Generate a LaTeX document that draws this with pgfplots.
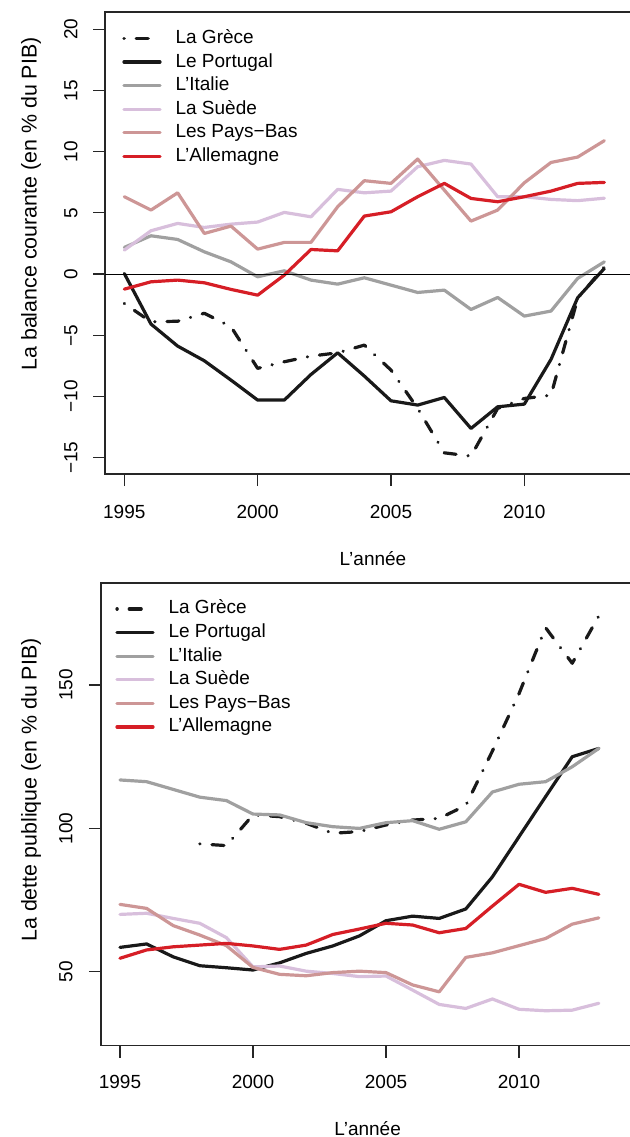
\documentclass[border=0pt]{standalone}
\usepackage{fontspec}
\setmainfont{Liberation Sans}
\usepackage{pgfplots}
\usepackage{pgfplotstable}
\pgfplotsset{compat=1.18}

\definecolor{grcol}{RGB}{25,25,25}
\definecolor{ptcol}{RGB}{25,25,25}
\definecolor{itcol}{RGB}{160,160,160}
\definecolor{secol}{RGB}{216,191,220}
\definecolor{nlcol}{RGB}{205,150,150}
\definecolor{decol}{RGB}{214,30,38}

% balance courante, % du PIB
\pgfplotstableread{
year gr pt it se nl de
1995 -2.4 0.05 2.18 1.96 6.32 -1.23
1996 -3.9 -4.08 3.13 3.54 5.23 -0.63
1997 -3.85 -5.88 2.83 4.14 6.64 -0.49
1998 -3.2 -7.08 1.82 3.81 3.32 -0.71
1999 -4.3 -8.66 1.0 4.08 3.92 -1.25
2000 -7.7 -10.29 -0.22 4.25 2.04 -1.72
2001 -7.16 -10.29 0.27 5.04 2.59 -0.08
2002 -6.7 -8.2 -0.49 4.68 2.59 2.01
2003 -6.43 -6.43 -0.82 6.92 5.5 1.9
2004 -5.8 -8.33 -0.3 6.64 7.63 4.74
2005 -7.84 -10.35 -0.9 6.78 7.41 5.09
2006 -10.97 -10.7 -1.5 8.77 9.4 6.32
2007 -14.6 -10.08 -1.31 9.29 6.86 7.41
2008 -14.87 -12.61 -2.89 8.99 4.33 6.18
2009 -10.97 -10.84 -1.91 6.32 5.23 5.91
2010 -10.16 -10.62 -3.43 6.32 7.46 6.32
2011 -9.89 -6.97 -3.02 6.1 9.12 6.78
2012 -1.99 -1.93 -0.35 6.0 9.56 7.41
2013 0.6 0.46 1.0 6.2 10.9 7.49
}\balance

% dette publique, % du PIB
\pgfplotstableread{
year gr pt it se nl de
1995 nan 58.5 116.9 70.0 73.5 54.7
1996 nan 59.7 116.3 70.4 72.1 57.6
1997 nan 55.2 113.6 68.6 66.1 58.7
1998 94.6 52.1 110.9 66.9 62.8 59.3
1999 94.0 51.4 109.7 61.9 59.1 59.9
2000 104.7 50.6 105.0 51.7 51.5 59.0
2001 104.1 53.1 104.7 52.0 49.1 57.8
2002 101.8 56.4 102.0 50.2 48.6 59.3
2003 98.3 59.0 100.6 49.4 49.7 63.0
2004 98.9 62.5 100.0 48.3 50.2 64.9
2005 101.2 67.8 102.0 48.5 49.7 66.9
2006 102.9 69.4 102.7 43.6 45.4 66.3
2007 103.5 68.6 99.7 38.6 43.0 63.6
2008 108.0 71.9 102.3 37.2 55.0 65.1
2009 127.0 83.1 112.7 40.5 56.6 72.9
2010 147.0 97.1 115.4 36.9 59.1 80.5
2011 170.0 111.1 116.3 36.4 61.6 77.7
2012 157.6 125.0 121.5 36.6 66.6 79.1
2013 174.1 127.9 127.9 39.0 68.8 77.0
}\dette

\newcommand{\rfont}{\fontsize{9.5bp}{11bp}\selectfont}
\newcommand{\ylabfont}{\fontsize{10.7bp}{12bp}\selectfont}

\pgfplotsset{
  rplot/.style={
    scale only axis,
    anchor=north west,
    font=\rfont,
    axis line style={black!85, line width=0.6bp},
    tick style={black!85, line width=0.6bp},
    tick align=outside,
    tick pos=left,
    major tick length=6bp,
    xtick={1995,2000,2005,2010},
    xticklabels={1995,2000,2005,2010},
    xticklabel style={anchor=center, inner sep=0pt},
    yticklabel style={rotate=90, anchor=south, inner sep=0pt},
    xticklabel shift=13bp,
    yticklabel shift=7.5bp,
    unbounded coords=jump,
    xlabel={L'année},
    legend cell align=left,
    legend image code/.code={\draw[##1] (0bp,0bp) -- (18bp,0bp);},
    legend style={draw=none, fill=none, font=\rfont, inner sep=0pt,
      at={(0,1)}, anchor=north west,
      row sep=2.8bp, column sep=7bp,
      nodes={inner sep=0pt, text height=7bp, text depth=2bp}},
  },
  ln/.style={line width=1.6bp, line cap=round, line join=round},
  grs/.style={ln, grcol, dash pattern=on 0.1bp off 6bp on 6bp off 6bp},
}

\begin{document}
\begin{tikzpicture}
\useasboundingbox (0,0) rectangle (315bp,-568.5bp);

\begin{axis}[rplot,
  at={(52.5bp,-6bp)}, width=263bp, height=231bp,
  xmin=1994.276, xmax=2014, ymin=-16.33, ymax=21.41,
  ytick={-15,-10,-5,0,5,10,15,20},
  yticklabels={−15,−10,−5,0,5,10,15,20},
  ylabel={La balance courante (en \% du PIB)},
  ylabel style={at={(axis description cs:-0.1407,0.5844)}, anchor=center, font=\ylabfont},
  xlabel style={at={(axis description cs:0.5095,-0.184)}, anchor=center},
  legend style={xshift=8.5bp, yshift=-8.5bp},
]
\addplot[grs] table[x=year, y=gr] {\balance};
\addlegendentry{La Grèce}
\addplot[ln, ptcol] table[x=year, y=pt] {\balance};
\addlegendentry{Le Portugal}
\addplot[ln, itcol] table[x=year, y=it] {\balance};
\addlegendentry{L'Italie}
\addplot[ln, secol] table[x=year, y=se] {\balance};
\addlegendentry{La Suède}
\addplot[ln, nlcol] table[x=year, y=nl] {\balance};
\addlegendentry{Les Pays−Bas}
\addplot[ln, decol] table[x=year, y=de] {\balance};
\addlegendentry{L'Allemagne}
\draw[black, line width=0.5bp] ({rel axis cs:0,0} |- {axis cs:2000,0}) -- ({rel axis cs:1,0} |- {axis cs:2000,0});
\end{axis}

\begin{axis}[rplot,
  at={(50.5bp,-291.5bp)}, width=265bp, height=231.35bp,
  xmin=1994.286, xmax=2014.21, ymin=24.2, ymax=185.6,
  ytick={50,100,150},
  yticklabels={50,100,150},
  xticklabel shift=12bp,
  yticklabel shift=8bp,
  ylabel={La dette publique (en \% du PIB)},
  ylabel style={at={(axis description cs:-0.132,0.5526)}, anchor=center, font=\ylabfont},
  xlabel style={at={(axis description cs:0.503,-0.18)}, anchor=center},
  legend style={xshift=7bp, yshift=-8.25bp},
]
\addplot[grs] table[x=year, y=gr] {\dette};
\addlegendentry{La Grèce}
\addplot[ln, ptcol] table[x=year, y=pt] {\dette};
\addlegendentry{Le Portugal}
\addplot[ln, itcol] table[x=year, y=it] {\dette};
\addlegendentry{L'Italie}
\addplot[ln, secol] table[x=year, y=se] {\dette};
\addlegendentry{La Suède}
\addplot[ln, nlcol] table[x=year, y=nl] {\dette};
\addlegendentry{Les Pays−Bas}
\addplot[ln, decol] table[x=year, y=de] {\dette};
\addlegendentry{L'Allemagne}
\end{axis}
\end{tikzpicture}
\end{document}
